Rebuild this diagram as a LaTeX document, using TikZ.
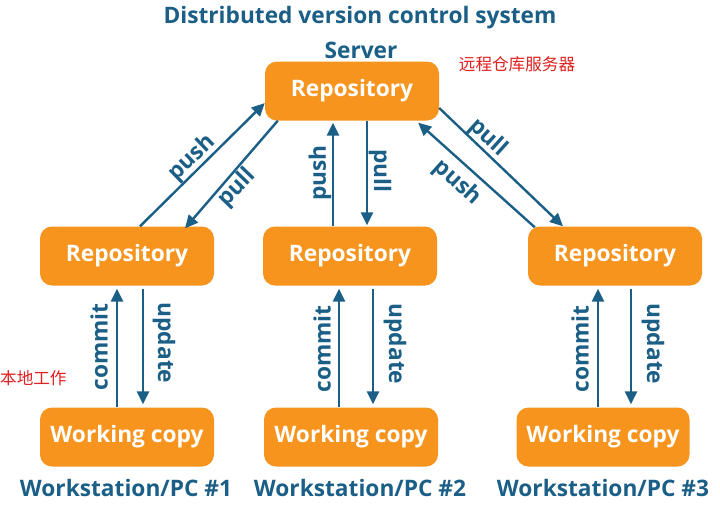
\documentclass[tikz,border=0pt]{standalone}
\usepackage{fontspec}
\setmainfont{Open Sans}
\newfontfamily\cjk{Noto Sans CJK SC}
\usetikzlibrary{shapes,arrows.meta}
\definecolor{boxorange}{HTML}{F7941D}
\definecolor{lineblue}{HTML}{1B5F87}
\definecolor{notered}{HTML}{E0201E}
\tikzstyle{box}=[rectangle,rounded corners=12pt,fill=boxorange,text=white,font=\fontsize{22.7}{26}\selectfont\bfseries,minimum width=174pt,minimum height=59pt,inner sep=0pt]
\tikzstyle{arr}=[draw=lineblue,line width=2.4pt,-{Triangle[length=13pt,width=12pt]}]
\tikzstyle{lbl}=[text=lineblue,font=\fontsize{22.7}{26}\selectfont\bfseries,inner sep=0pt]
\tikzstyle{cn}=[text=notered,font=\fontsize{16.6}{19}\selectfont\cjk,inner sep=0pt]

\begin{document}
\begin{tikzpicture}[x=1pt,y=-1pt]
\useasboundingbox[fill=white] (0,0) rectangle (720,504);
\node[lbl] (title) at (360,18) {Distributed version control system};
\node[lbl] (server) at (361,50) {Server};
\node[cn] (remote) at (517,64) {远程仓库服务器};
\node[cn,anchor=west] (local) at (0,378) {本地工作};
\node[box] (srv) at (352,91) {Repository};
\node[box] (repoA) at (127,256) {Repository};
\node[box] (repoB) at (350,256) {Repository};
\node[box] (repoC) at (615,256) {Repository};
\node[box] (wcA) at (127,437) {Working copy};
\node[box] (wcB) at (351,437) {Working copy};
\node[box,minimum width=173pt] (wcC) at (603,437) {Working copy};
\node[lbl] (pcA) at (126,488) {Workstation/PC \#1};
\node[lbl] (pcB) at (360,488) {Workstation/PC \#2};
\node[lbl] (pcC) at (603,488) {Workstation/PC \#3};
% server <-> local repositories
\draw[arr] ([xshift=13pt]repoA.north) -- ([yshift=-12pt]srv.west);
\draw[arr] ([xshift=13pt]srv.south west) -- ([xshift=58pt,yshift=-2pt]repoA.north);
\draw[arr] ([xshift=-17pt]repoB.north) -- ([xshift=-19pt,yshift=-2pt]srv.south);
\draw[arr] ([xshift=15pt]srv.south) -- ([xshift=17pt,yshift=1pt]repoB.north);
\draw[arr] ([yshift=-17pt]srv.east) -- ([xshift=-52pt]repoC.north);
\draw[arr] ([xshift=7pt,yshift=-1pt]repoC.north west) -- ([xshift=-21pt,yshift=-2pt]srv.south east);
\node[lbl,rotate=44] (pushA) at (192,158) {push};
\node[lbl,rotate=46] (pullA) at (237,188) {pull};
\node[lbl,rotate=90] (pushB) at (320,173) {push};
\node[lbl,rotate=-90] (pullB) at (380,171) {pull};
\node[lbl,rotate=-42] (pullC) at (488,138) {pull};
\node[lbl,rotate=-42] (pushC) at (457,183) {push};
% local repositories <-> working copies
\draw[arr] ([xshift=-10pt]wcA.north) -- ([xshift=-10pt,yshift=-3pt]repoA.south);
\draw[arr] ([xshift=16pt,yshift=-3pt]repoA.south) -- ([xshift=16pt,yshift=3pt]wcA.north);
\draw[arr] ([xshift=-12pt]wcB.north) -- ([xshift=-11pt,yshift=-3pt]repoB.south);
\draw[arr] ([xshift=23pt,yshift=-3pt]repoB.south) -- ([xshift=22pt,yshift=3pt]wcB.north);
\draw[arr] ([xshift=-5pt]wcC.north) -- ([xshift=-17pt,yshift=-3pt]repoC.south);
\draw[arr] ([xshift=16pt,yshift=-3pt]repoC.south) -- ([xshift=28pt,yshift=3pt]wcC.north);
\node[lbl,rotate=90] (commitA) at (99,347) {commit};
\node[lbl,rotate=-90] (updateA) at (164,343) {update};
\node[lbl,rotate=90] (commitB) at (322,349) {commit};
\node[lbl,rotate=-90] (updateB) at (395,344) {update};
\node[lbl,rotate=90] (commitC) at (580,349) {commit};
\node[lbl,rotate=-90] (updateC) at (653,344) {update};
\end{tikzpicture}
\end{document}
